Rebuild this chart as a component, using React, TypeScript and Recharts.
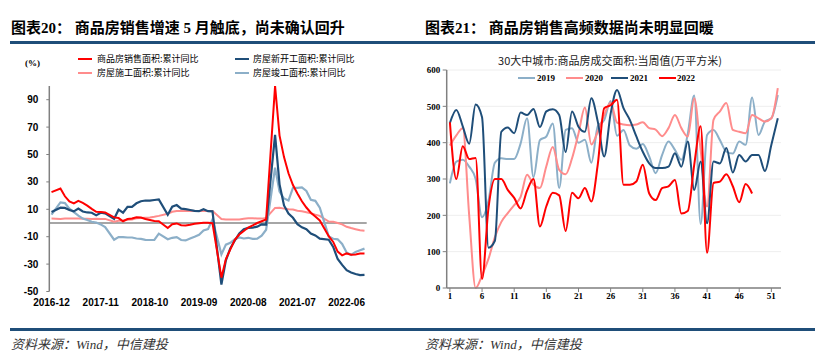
import React from 'react';
import { LineChart, Line, XAxis, YAxis, CartesianGrid, ReferenceLine } from 'recharts';

// ---------- Left chart (图表20) ----------
const months = [
  '2016-12',
  '2017-01','2017-02','2017-03','2017-04','2017-05','2017-06','2017-07','2017-08','2017-09','2017-10','2017-11','2017-12',
  '2018-01','2018-02','2018-03','2018-04','2018-05','2018-06','2018-07','2018-08','2018-09','2018-10','2018-11','2018-12',
  '2019-01','2019-02','2019-03','2019-04','2019-05','2019-06','2019-07','2019-08','2019-09','2019-10','2019-11','2019-12',
  '2020-01','2020-02','2020-03','2020-04','2020-05','2020-06','2020-07','2020-08','2020-09','2020-10','2020-11','2020-12',
  '2021-01','2021-02','2021-03','2021-04','2021-05','2021-06','2021-07','2021-08','2021-09','2021-10','2021-11','2021-12',
  '2022-01','2022-02','2022-03','2022-04','2022-05','2022-06','2022-07','2022-08','2022-09','2022-10',
];

const salesArea = [
  22.5,
  null, 25.1, 19.5, 15.7, 14.3, 16.1, 14.7, 12.7, 10.3, 8.2, 8.0, 7.7,
  null, 4.1, 3.6, 1.3, 2.9, 3.3, 4.2, 4.0, 2.9, 2.2, 1.4, 1.3,
  null, -3.6, -0.9, -0.3, -1.6, -1.8, -1.3, -0.6, -0.1, 0.1, 0.2, -0.1,
  null, -39.9, -26.3, -19.3, -12.3, -8.4, -5.8, -3.3, -1.8, 0.0, 1.3, 2.6,
  null, 100, 63.8, 48.1, 36.3, 27.7, 21.5, 15.9, 11.3, 7.5, 4.8, 1.9,
  null, -9.6, -13.8, -20.9, -23.6, -22.2, -23.1, -23.0, -22.2, -22.3,
];

const newStartArea = [
  8.1,
  null, 11.2, 11.0, 9.5, 8.5, 10.6, 8.4, 7.7, 7.5, 5.6, 7.5, 7.0,
  null, 2.9, 9.7, 7.5, 11.8, 11.8, 14.4, 15.9, 16.4, 16.3, 16.8, 17.2,
  null, 6.0, 11.9, 13.1, 10.5, 10.1, 9.5, 8.9, 8.6, 10.0, 8.6, 8.5,
  null, -44.9, -27.2, -18.4, -12.8, -7.6, -4.5, -3.6, -3.4, -2.7, -1.0, -1.2,
  null, 64.3, 28.2, 12.8, 6.9, 3.8, -0.9, -3.2, -4.5, -7.7, -9.1, -11.4,
  null, -12.2, -17.5, -26.3, -30.6, -34.4, -36.1, -37.2, -38.0, -37.8,
];

const constructionArea = [
  3.2,
  null, 3.0, 3.2, 3.2, 3.3, 3.3, 3.1, 3.1, 3.0, 3.1, 3.0, 3.0,
  null, 1.0, 1.7, 1.8, 2.3, 2.5, 3.4, 3.6, 3.9, 4.1, 4.5, 5.2,
  null, 6.8, 8.2, 8.8, 8.8, 8.8, 9.0, 8.8, 8.7, 9.0, 8.7, 8.7,
  null, 2.9, 2.6, 2.5, 2.6, 2.6, 3.1, 3.4, 3.5, 3.3, 3.2, 3.7,
  null, 11.0, 11.2, 10.5, 10.1, 9.8, 9.0, 8.5, 7.9, 7.1, 6.1, 5.2,
  null, 1.1, 1.0, 0.0, -1.0, -2.8, -3.7, -4.5, -5.3, -5.7,
];

const completedArea = [
  6.1,
  null, 15.0, 14.5, 10.5, 8.0, 5.4, 3.2, 2.2, 0.9, 0.3, -1.0, -3.0,
  null, -12.2, -10.3, -10.3, -10.6, -10.6, -11.3, -11.6, -12.3, -12.4, -12.3, -7.8,
  null, -11.9, -10.8, -10.3, -12.4, -12.7, -11.3, -10.0, -8.6, -5.5, -4.5, 2.6,
  null, -22.9, -15.8, -14.5, -11.8, -10.5, -11.3, -10.8, -11.6, -11.5, -9.3, -4.9,
  null, 40.4, 22.9, 17.9, 16.4, 25.7, 25.7, 26.0, 23.4, 16.9, 16.2, 11.2,
  null, -9.8, -11.5, -11.9, -15.3, -21.5, -23.3, -21.1, -19.9, -18.7,
];

const leftTicks = [-50, -30, -10, 10, 30, 50, 70, 90];

// ---------- Right chart (图表21) ----------
const weeks = [
  1, 2, 3, 4, 5, 6, 7, 8, 9, 10, 11, 12, 13, 14, 15, 16, 17, 18, 19, 20, 21, 22, 23, 24, 25, 26,
  27, 28, 29, 30, 31, 32, 33, 34, 35, 36, 37, 38, 39, 40, 41, 42, 43, 44, 45, 46, 47, 48, 49, 50, 51, 52,
];

const y2019 = [
  288, 348, 353, 334, 300, 195, 240, 345, 357, 355, 355, 398, 467, 305, 407, 417, 453, 275, 435, 440, 400, 408, 345, 445, 462, 515,
  419, 435, 392, 383, 396, 362, 316, 366, 403, 380, 353, 425, 530, 176, 421, 435, 407, 375, 370, 403, 394, 524, 421, 458, 467, 531,
];

const y2020 = [
  392, 420, 440, 200, 0, 35, 80, 140, 182, 206, 228, 251, 312, 285, 275, 335, 388, 325, 313, 357, 425, 497, 395, 430, 476, 510,
  455, 450, 448, 450, 456, 440, 436, 418, 440, 476, 440, 417, 522, 380, 224, 463, 486, 509, 435, 430, 426, 476, 467, 458, 467, 550,
];

const y2021 = [
  454, 490, 445, 397, 505, 470, 111, 130, 430, 442, 426, 483, 476, 493, 443, 486, 492, 476, 374, 486, 444, 430, 522, 458, 362, 480,
  545, 495, 462, 417, 375, 343, 330, 330, 334, 371, 334, 403, 270, 348, 178, 348, 343, 385, 318, 366, 348, 366, 366, 322, 394, 467,
];

const y2022 = [
  456, 300, 390, 355, 358, 25, 220, 300, 300, 270, 248, 219, 268, 300, 169, 225, 262, 255, 157, 262, 247, 275, 238, 340, 495, 503,
  518, 284, 284, 293, 339, 260, 242, 275, 280, 297, 205, 212, 339, 445, 97, 289, 293, 313, 280, 236, 286, 260, null, null, null, null,
];

const rightTicks = [0, 100, 200, 300, 400, 500, 600];

// ---------- Styling ----------
const RED = '#FF0000';
const DARK = '#1F4E79';
const PINK = '#FF8C8C';
const STEEL = '#8CAFC8';
const BAR = '#1F4E79';

const leftData = months.map((m, i) => ({
  month: m,
  sales: salesArea[i],
  start: newStartArea[i],
  constr: constructionArea[i],
  done: completedArea[i],
}));

const rightData = weeks.map((w, i) => ({
  week: w,
  a2019: y2019[i],
  a2020: y2020[i],
  a2021: y2021[i],
  a2022: y2022[i],
}));

const titleFont = "'Liberation Serif', 'Noto Sans CJK SC', serif";
const cjkFont = "'Noto Sans CJK SC', sans-serif";

function Txt(props: { x: number; cy: number; h: number; style?: React.CSSProperties; children: React.ReactNode }) {
  return (
    <div
      style={{
        position: 'absolute',
        left: props.x,
        top: props.cy - props.h / 2,
        height: props.h,
        lineHeight: props.h + 'px',
        whiteSpace: 'nowrap',
        ...props.style,
      }}
    >
      {props.children}
    </div>
  );
}

function Seg(props: { x: number; cy: number; w: number; color: string }) {
  return (
    <div
      style={{
        position: 'absolute',
        left: props.x,
        top: props.cy - 1,
        width: props.w,
        height: 2.2,
        background: props.color,
      }}
    />
  );
}

export default function App() {
  const leftTick = { fill: '#000', fontSize: 10, fontWeight: 'bold' as const, fontFamily: "'Liberation Sans', Arial, sans-serif" };
  const rightTick = { fill: '#000', fontSize: 9, fontWeight: 'bold' as const, fontFamily: "'Liberation Serif', serif" };
  const legendLeft = { fontSize: 9, fontFamily: cjkFont, color: '#000' };
  const legendRight = { fontSize: 9, fontFamily: "'Liberation Serif', serif", fontWeight: 'bold' as const, color: '#000' };
  const r1 = 59.3;
  const r2 = 72.6;
  return (
    <div style={{ position: 'absolute', left: 0, top: 0, width: 837, height: 364, background: '#fff', overflow: 'hidden' }}>
      {/* Titles */}
      <Txt x={11} cy={27.5} h={20} style={{ fontSize: 15, fontWeight: 'bold', fontFamily: titleFont, color: '#000' }}>
        图表20： 商品房销售增速 5 月触底，尚未确认回升
      </Txt>
      <Txt x={425} cy={27.5} h={20} style={{ fontSize: 15, fontWeight: 'bold', fontFamily: titleFont, color: '#000' }}>
        图表21： 商品房销售高频数据尚未明显回暖
      </Txt>
      <div style={{ position: 'absolute', left: 10, top: 41, width: 805, height: 3, background: BAR }} />
      <div style={{ position: 'absolute', left: 10, top: 328, width: 805, height: 2.5, background: BAR }} />

      {/* Sources */}
      <Txt x={11} cy={345} h={18} style={{ fontSize: 13, fontStyle: 'italic', fontFamily: titleFont, color: '#333' }}>
        资料来源：Wind，中信建投
      </Txt>
      <Txt x={425} cy={345} h={18} style={{ fontSize: 13, fontStyle: 'italic', fontFamily: titleFont, color: '#333' }}>
        资料来源：Wind，中信建投
      </Txt>

      {/* Left legend */}
      <Txt x={25} cy={63} h={11} style={{ fontSize: 9, fontWeight: 'bold', fontFamily: "'Liberation Serif', serif", color: '#000' }}>
        (%)
      </Txt>
      <Seg x={78} cy={r1} w={14} color={RED} />
      <Txt x={97} cy={r1} h={10} style={legendLeft}>商品房销售面积:累计同比</Txt>
      <Seg x={235} cy={r1} w={14} color={DARK} />
      <Txt x={253} cy={r1} h={10} style={legendLeft}>房屋新开工面积:累计同比</Txt>
      <Seg x={78} cy={r2} w={14} color={PINK} />
      <Txt x={97} cy={r2} h={10} style={legendLeft}>房屋施工面积:累计同比</Txt>
      <Seg x={235} cy={r2} w={14} color={STEEL} />
      <Txt x={253} cy={r2} h={10} style={legendLeft}>房屋竣工面积:累计同比</Txt>

      {/* Right title + legend */}
      <div
        style={{
          position: 'absolute', left: 480, width: 260, top: 53, height: 14, lineHeight: '14px', textAlign: 'center',
          fontSize: 11, fontFamily: cjkFont, color: '#222', whiteSpace: 'nowrap',
        }}
      >
        30大中城市:商品房成交面积:当周值(万平方米)
      </div>
      <Seg x={518} cy={78.3} w={17} color={STEEL} />
      <Txt x={537} cy={78.3} h={11} style={legendRight}>2019</Txt>
      <Seg x={566} cy={78.3} w={17} color={PINK} />
      <Txt x={585} cy={78.3} h={11} style={legendRight}>2020</Txt>
      <Seg x={611} cy={78.3} w={17} color={DARK} />
      <Txt x={630} cy={78.3} h={11} style={legendRight}>2021</Txt>
      <Seg x={659} cy={78.3} w={17} color={RED} />
      <Txt x={677} cy={78.3} h={11} style={legendRight}>2022</Txt>

      {/* Left chart */}
      <div style={{ position: 'absolute', left: 0, top: 0 }}>
        <LineChart width={420} height={364} data={leftData} margin={{ top: 86, right: 53.3, bottom: 42.5, left: 9.3 }}>
          <ReferenceLine y={0} stroke="#a6a6a6" strokeWidth={2} />
          <XAxis
            dataKey="month"
            interval={10}
            axisLine={false}
            tickLine={false}
            padding={{ left: 2.2, right: 2.2 }}
            height={30}
            tickSize={6}
            tickMargin={1}
            tick={leftTick}
          />
          <YAxis
            width={40}
            domain={[-50, 100]}
            ticks={leftTicks}
            allowDataOverflow
            axisLine={{ stroke: '#808080', strokeWidth: 1.5 }}
            tickLine={{ stroke: '#808080' }}
            tickSize={3}
            tickMargin={8}
            tick={leftTick}
          />
          <Line type="linear" dataKey="constr" stroke={PINK} strokeWidth={2} dot={false} connectNulls isAnimationActive={false} />
          <Line type="linear" dataKey="done" stroke={STEEL} strokeWidth={2.2} dot={false} connectNulls isAnimationActive={false} />
          <Line type="linear" dataKey="start" stroke={DARK} strokeWidth={2.2} dot={false} connectNulls isAnimationActive={false} />
          <Line type="linear" dataKey="sales" stroke={RED} strokeWidth={2} dot={false} connectNulls isAnimationActive={false} />
        </LineChart>
      </div>

      {/* Right chart */}
      <div style={{ position: 'absolute', left: 420, top: 0 }}>
        <LineChart width={417} height={364} data={rightData} margin={{ top: 70, right: 56, bottom: 56, left: 0 }}>
          <CartesianGrid vertical={false} stroke="#eeeeee" />
          <XAxis
            dataKey="week"
            interval={4}
            padding={{ left: 3.2, right: 3.2 }}
            height={20}
            axisLine={{ stroke: '#808080', strokeWidth: 1.5 }}
            tickLine={{ stroke: '#808080' }}
            tickSize={4}
            tickMargin={1}
            tick={rightTick}
          />
          <YAxis
            width={26.7}
            domain={[0, 600]}
            ticks={rightTicks}
            axisLine={{ stroke: '#808080', strokeWidth: 1.5 }}
            tickLine={{ stroke: '#808080' }}
            tickSize={4}
            tickMargin={2.5}
            tick={rightTick}
          />
          <Line type="monotone" dataKey="a2019" stroke={STEEL} strokeWidth={2} dot={false} isAnimationActive={false} />
          <Line type="monotone" dataKey="a2020" stroke={PINK} strokeWidth={2} dot={false} isAnimationActive={false} />
          <Line type="monotone" dataKey="a2021" stroke={DARK} strokeWidth={2} dot={false} isAnimationActive={false} />
          <Line type="monotone" dataKey="a2022" stroke={RED} strokeWidth={2} dot={false} isAnimationActive={false} />
        </LineChart>
      </div>
    </div>
  );
}
